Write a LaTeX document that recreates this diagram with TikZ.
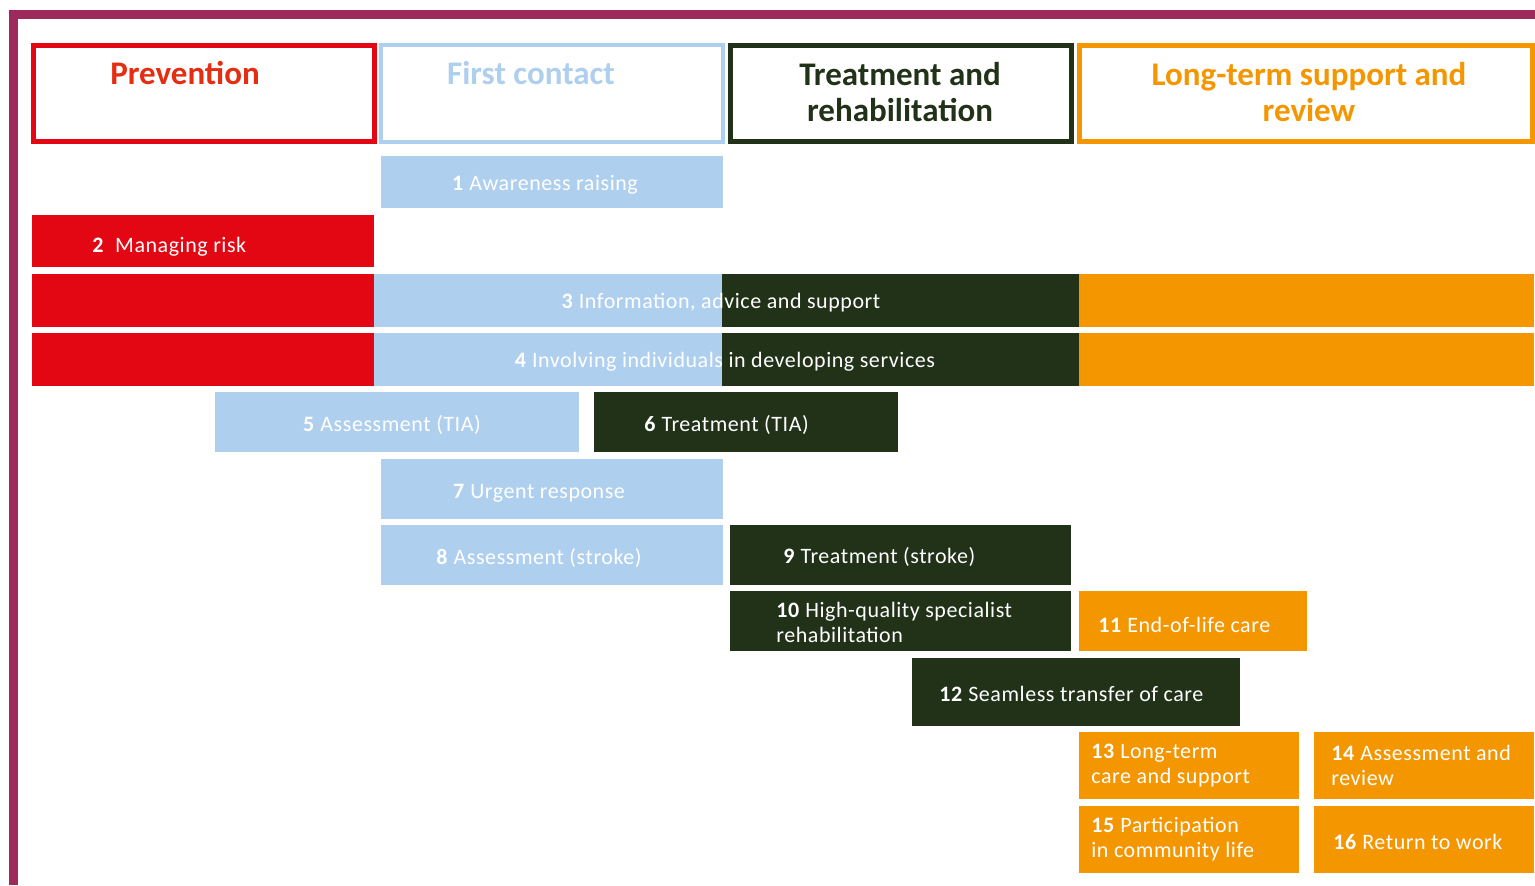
\documentclass[tikz,border=0pt]{standalone}
\usepackage{fontspec}
\setmainfont{Carlito}
\newfontfamily\lblfont[LetterSpace=2.5]{Carlito}
\definecolor{lblue}{HTML}{AFCFEF}
\definecolor{pred}{HTML}{E30613}
\definecolor{dgreen}{HTML}{213219}
\definecolor{orng}{HTML}{F39600}
\definecolor{purp}{HTML}{9E2A5B}
\definecolor{hred}{HTML}{E52D12}
\begin{document}
\begin{tikzpicture}[x=0.5pt,y=-0.5pt,
  lbl/.style={text=white,inner sep=0pt,yshift=-0.8pt,font=\lblfont\fontsize{11}{12.5}\selectfont,align=left},
  hdr/.style={inner sep=0pt,font=\fontsize{16.5}{18}\selectfont\bfseries,align=center},
  hbox/.style={line width=2.5pt}]
\useasboundingbox (0,0) rectangle (1535,885);
\fill[white] (0,0) rectangle (1535,885);
% frame
\fill[purp] (9,10) rectangle (1535,19);
\fill[purp] (9,10) rectangle (18,885);
% headers
\draw[hbox,pred] (33.5,45.5) rectangle (374.5,141.5);
\draw[line width=2pt,lblue] (381,45) rectangle (723,142);
\draw[hbox,dgreen] (730.5,45.5) rectangle (1071.5,141.5);
\draw[hbox,orng] (1079.5,45.5) rectangle (1532.5,141.5);
\node[hdr,text=hred] (hprev) at (185,73) {Prevention};
\node[hdr,text=lblue] (hfirst) at (531,73) {First contact};
\node[hdr,text=dgreen] (htreat) at (900,92) {Treatment and\\rehabilitation};
\node[hdr,text=orng] (hlong) at (1309,92) {Long-term support and\\review};
% bars
\fill[lblue] (381,156) rectangle (723,208);
\node[lbl] (b1) at (545,183) {\textbf{1} Awareness raising};
\fill[pred] (32,215) rectangle (374,267);
\node[lbl,anchor=west] (b2) at (92,245) {\textbf{2}\ \ Managing risk};
\fill[pred] (32,274) rectangle (374,327);
\fill[lblue] (374,274) rectangle (722,327);
\fill[dgreen] (722,274) rectangle (1079,327);
\fill[orng] (1079,274) rectangle (1534,327);
\node[lbl] (b3) at (721,301) {\textbf{3} Information, advice and support};
\fill[pred] (32,333) rectangle (374,386);
\fill[lblue] (374,333) rectangle (722,386);
\fill[dgreen] (722,333) rectangle (1079,386);
\fill[orng] (1079,333) rectangle (1534,386);
\node[lbl] (b4) at (725,360) {\textbf{4} Involving individuals in developing services};
\fill[lblue] (215,392) rectangle (579,452);
\node[lbl] (b5) at (392,423) {\textbf{5} Assessment (TIA)};
\fill[dgreen] (594,392) rectangle (898,452);
\node[lbl,anchor=west] (b6) at (644,423) {\textbf{6} Treatment (TIA)};
\fill[lblue] (381,459) rectangle (723,519);
\node[lbl] (b7) at (539,492) {\textbf{7} Urgent response};
\fill[lblue] (381,525) rectangle (723,585);
\node[lbl] (b8) at (539,556) {\textbf{8} Assessment (stroke)};
\fill[dgreen] (730,525) rectangle (1071,585);
\node[lbl,anchor=west] (b9) at (783,555) {\textbf{9} Treatment (stroke)};
\fill[dgreen] (730,591) rectangle (1071,651);
\node[lbl,anchor=west] (b10) at (776,620.5) {\textbf{10} High-quality specialist\\rehabilitation};
\fill[orng] (1079,591) rectangle (1307,651);
\node[lbl,anchor=west] (b11) at (1098,623) {\textbf{11} End-of-life care};
\fill[dgreen] (912,658) rectangle (1240,726);
\node[lbl,anchor=west] (b12) at (939,692) {\textbf{12} Seamless transfer of care};
\fill[orng] (1079,732) rectangle (1299,799);
\node[lbl,anchor=west] (b13) at (1091,764) {\textbf{13} Long-term\\care and support};
\fill[orng] (1314,732) rectangle (1534,799);
\node[lbl,anchor=west] (b14) at (1331,763.5) {\textbf{14} Assessment and\\review};
\fill[orng] (1079,806) rectangle (1299,873);
\node[lbl,anchor=west] (b15) at (1091,837.5) {\textbf{15} Participation\\in community life};
\fill[orng] (1314,806) rectangle (1534,873);
\node[lbl,anchor=west] (b16) at (1333,840) {\textbf{16} Return to work};
\end{tikzpicture}
\end{document}
